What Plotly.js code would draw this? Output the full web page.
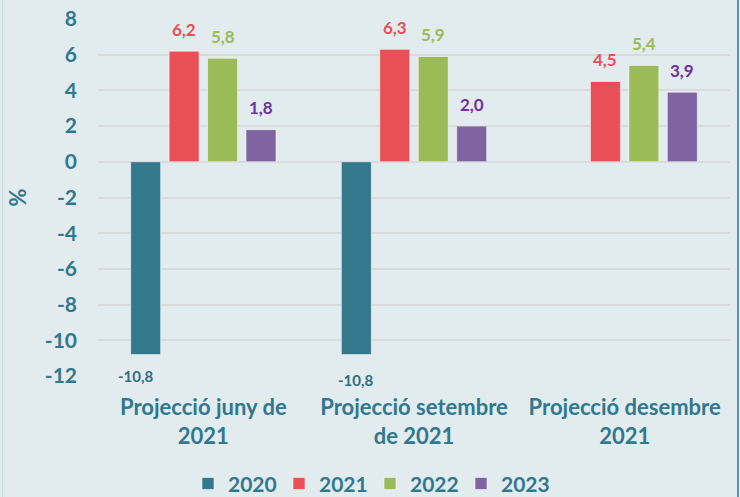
<!DOCTYPE html>
<html>
<head>
<meta charset="utf-8">
<script src="https://cdn.plot.ly/plotly-3.0.1.min.js"></script>
<style>
  html, body { margin: 0; padding: 0; background: #e2ebee; }
  #wrap { position: relative; width: 740px; height: 497px; overflow: hidden; }
  #chart { width: 740px; height: 497px; }
  #lb { position: absolute; left: 2px; top: 0; width: 1px; height: 497px; background: #c6d7dd; }
  #rb { position: absolute; left: 737px; top: 0; width: 2px; height: 497px; background: #5a94a9; }
</style>
</head>
<body>
<div id="wrap">
  <div id="chart"></div>
  <div id="lb"></div>
  <div id="rb"></div>
</div>
<script>
const categories = ["Projecció juny de<br>2021", "Projecció setembre<br>de 2021", "Projecció desembre<br>2021"];
const seriesNames = ["2020", "2021", "2022", "2023"];
const v2020 = [-10.8, -10.8, null];
const v2021 = [6.2, 6.3, 4.5];
const v2022 = [5.8, 5.9, 5.4];
const v2023 = [1.8, 2.0, 3.9];
const yTicks = [-12, -10, -8, -6, -4, -2, 0, 2, 4, 6, 8];

const seriesValues = [v2020, v2021, v2022, v2023];
const barColors = ["#34788e", "#e94f56", "#9bbb59", "#8064a2"];
const labelColors = ["#2f6f84", "#e94f56", "#9bbb59", "#7030a0"];
const tealText = "#31788e";
const FONT = "Lato, 'Open Sans', sans-serif";

const traces = seriesValues.map((vals, i) => ({
  type: "bar",
  name: seriesNames[i],
  x: categories,
  y: vals,
  marker: { color: barColors[i], line: { color: "rgba(255,255,255,0.55)", width: 1 } },
  hoverinfo: "skip"
}));

// data labels through annotations placed on each bar's value
const plotW = 740 - 98 - 10;
const bargap = 0.27;
const catW = plotW / categories.length;
const slot = catW * (1 - bargap) / seriesValues.length;
const annotations = [];
seriesValues.forEach((vals, i) => {
  vals.forEach((v, j) => {
    if (v === null) return;
    const neg = v < 0;
    annotations.push({
      x: categories[j], y: v, xref: "x", yref: "y",
      xshift: (i - (seriesValues.length - 1) / 2) * slot - (neg && j === 0 ? 10 : 0),
      yshift: neg ? (j === 0 ? -21 : -25) : 22,
      text: v.toFixed(1).replace(".", ","),
      showarrow: false,
      yanchor: "middle",
      font: { family: FONT, size: neg ? 15 : 17, color: labelColors[i], weight: 700 }
    });
  });
});

const layout = {
  width: 740, height: 497,
  paper_bgcolor: "#e2ebee", plot_bgcolor: "#e2ebee",
  margin: { l: 98, r: 10, t: 19, b: 121, autoexpand: false },
  barmode: "group",
  bargap: bargap,
  bargroupgap: 0.22,
  font: { family: FONT, color: tealText },
  xaxis: {
    type: "category",
    showgrid: false, zeroline: false, showline: false, ticks: "",
    tickfont: { family: FONT, size: 22, color: tealText, weight: 700 },
    ticklabelstandoff: 16
  },
  yaxis: {
    range: [-12, 8],
    tickvals: yTicks,
    ticktext: yTicks.map(String),
    showgrid: true, gridcolor: "#d7dbdc", gridwidth: 2,
    zeroline: false, showline: false, ticks: "",
    tickfont: { family: FONT, size: 21, color: tealText, weight: 700 },
    ticklabelstandoff: 20,
    title: { text: "%", font: { family: FONT, size: 22, color: tealText, weight: 700 }, standoff: 12 }
  },
  showlegend: true,
  legend: {
    orientation: "h",
    xref: "container", yref: "paper",
    x: 0.5, xanchor: "center",
    y: -0.302, yanchor: "middle",
    entrywidth: 46, entrywidthmode: "pixels",
    font: { family: FONT, size: 21, color: tealText, weight: 700 },
    bgcolor: "rgba(0,0,0,0)",
    itemclick: false
  },
  annotations: annotations
};

Plotly.newPlot("chart", traces, layout, { displayModeBar: false, staticPlot: true });
</script>
</body>
</html>
